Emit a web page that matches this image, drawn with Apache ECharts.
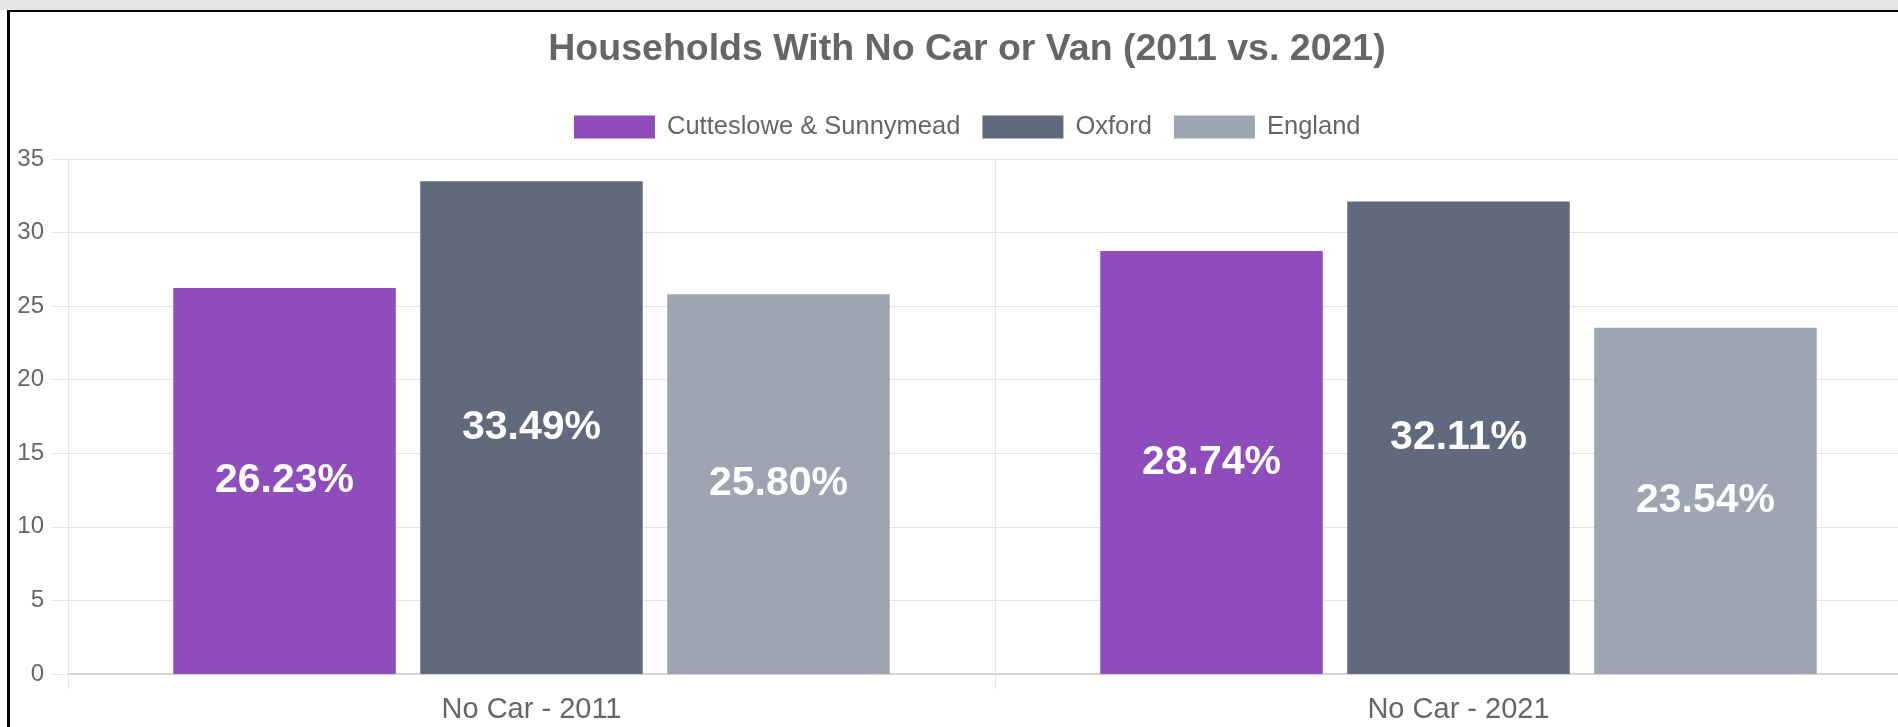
<!DOCTYPE html>
<html>
<head>
<meta charset="utf-8">
<script src="https://cdn.jsdelivr.net/npm/echarts@6/dist/echarts.min.js"></script>
<style>
  html, body { margin: 0; padding: 0; background: #fff; overflow: hidden; width: 1898px; height: 727px; }
  #chart { position: absolute; left: 0; top: 0; width: 1930px; height: 727px; }
  #band { position: absolute; left: 0; top: 0; width: 1898px; height: 10px; background: #e6e6e6; z-index: 5; }
  #frame { position: absolute; left: 7px; top: 10px; width: 1891px; height: 717px;
           border-top: 2px solid #000; border-left: 3px solid #000; box-sizing: border-box; z-index: 5; pointer-events: none; }
</style>
</head>
<body>
<div id="chart"></div>
<div id="band"></div>
<div id="frame"></div>
<script>
const titleText = 'Households With No Car or Van (2011 vs. 2021)';
const categories = ['No Car - 2011', 'No Car - 2021'];
const seriesNames = ['Cutteslowe & Sunnymead', 'Oxford', 'England'];
const cutteslowe = [26.23, 28.74];
const oxford = [33.49, 32.11];
const england = [25.80, 23.54];
const colors = ['#8e4cbd', '#606a7c', '#9ea4b1'];
const yTicks = { min: 0, max: 35, interval: 5 };

const font = '"Liberation Sans", Arial, Helvetica, sans-serif';
const chart = echarts.init(document.getElementById('chart'), null, { renderer: 'canvas' });

function makeSeries(name, data, color) {
  return {
    name: name,
    type: 'bar',
    data: data,
    barWidth: '24%',
    barGap: '11%',
    itemStyle: { color: color },
    label: {
      show: true,
      position: 'inside',
      formatter: p => p.value.toFixed(2) + '%',
      color: '#fff',
      fontWeight: 'bold',
      fontSize: 41,
      fontFamily: font
    }
  };
}

chart.setOption({
  animation: false,
  backgroundColor: '#fff',
  title: {
    text: titleText,
    left: 967,
    top: 31,
    padding: 0,
    textAlign: 'center',
    textStyle: { color: '#666', fontSize: 37.5, fontWeight: 'bold', fontFamily: font }
  },
  legend: {
    data: seriesNames,
    left: 574,
    top: 114,
    padding: 0,
    itemWidth: 81,
    itemHeight: 23,
    itemGap: 22,
    icon: 'rect',
    textStyle: { color: '#666', fontSize: 25.5, fontFamily: font, padding: [0, 0, 0, 7] }
  },
  grid: { left: 68, top: 159, right: 8, bottom: 53, containLabel: false },
  xAxis: {
    type: 'category',
    data: categories,
    axisLine: { show: true, lineStyle: { color: '#d6d6d6', width: 2 } },
    axisTick: { show: true, length: 15, lineStyle: { color: '#e5e5e5' } },
    splitLine: { show: true, lineStyle: { color: '#e5e5e5' } },
    axisLabel: { color: '#666', fontSize: 29, fontFamily: font, margin: 21 }
  },
  yAxis: {
    type: 'value',
    min: yTicks.min,
    max: yTicks.max,
    interval: yTicks.interval,
    axisLine: { show: true, lineStyle: { color: '#e5e5e5' } },
    axisTick: { show: true, length: 16, lineStyle: { color: '#e5e5e5' } },
    splitLine: { show: true, lineStyle: { color: '#e5e5e5' } },
    axisLabel: { color: '#666', fontSize: 24, fontFamily: font, margin: 24, padding: [0, 0, 6, 0] }
  },
  series: [
    makeSeries(seriesNames[0], cutteslowe, colors[0]),
    makeSeries(seriesNames[1], oxford, colors[1]),
    makeSeries(seriesNames[2], england, colors[2])
  ]
});
</script>
</body>
</html>
